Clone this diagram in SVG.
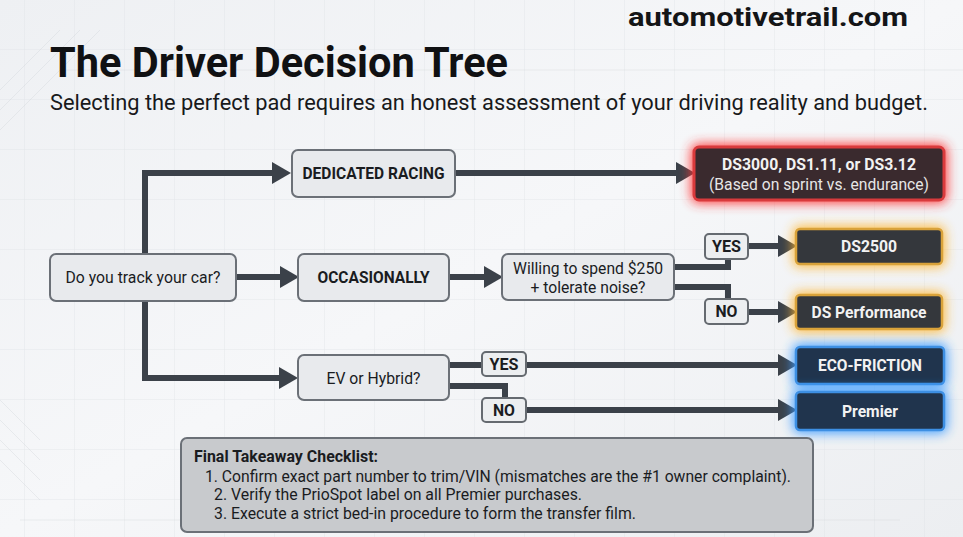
<svg xmlns="http://www.w3.org/2000/svg" width="963" height="537" viewBox="0 0 963 537">
<defs>
<linearGradient id="bg" x1="0" y1="0" x2="1" y2="1">
<stop offset="0" stop-color="#eef0f3"/>
<stop offset="0.5" stop-color="#f6f7f9"/>
<stop offset="1" stop-color="#eceef1"/>
</linearGradient>
<pattern id="grid" width="50" height="50" patternUnits="userSpaceOnUse" x="25" y="0">
<path d="M50,0 V50 M0,50 H50" fill="none" stroke="#dde0e5" stroke-width="1"/>
</pattern>
<marker id="arr" markerUnits="userSpaceOnUse" markerWidth="20" markerHeight="24" viewBox="0 0 20 24" refX="0" refY="12" orient="auto">
<path d="M0,1 L19,12 L0,23 Z" fill="#3b4149"/>
</marker>
<filter id="glow" x="-30%" y="-80%" width="160%" height="260%">
<feGaussianBlur in="SourceGraphic" stdDeviation="6"/>
</filter>
<style>
.conn{fill:none;stroke:#3b4149;stroke-width:6;stroke-linejoin:miter}
.box{fill:#e8eaed;stroke:#6b7077;stroke-width:2}
.lbl{fill:#eceef0;stroke:#656a70;stroke-width:2}
.t{font-family:Roboto,"Liberation Sans",sans-serif;fill:#1a1c1f;text-anchor:middle}
.b{font-weight:700}
.w{fill:#f2f2f2;font-weight:700}
.ck{font-family:Roboto,"Liberation Sans",sans-serif;fill:#1a1c1f;font-size:16.5px}
.gr{fill:#ff3030;opacity:0.95}
.ga{fill:#ffb52e;opacity:0.9}
.gb{fill:#3a9bff;opacity:0.95}
</style>
</defs>
<rect width="963" height="537" fill="url(#bg)"/>
<rect width="963" height="537" fill="url(#grid)" opacity="0.7"/>
<g opacity="0.35" stroke="#cfd3d8" stroke-width="1" fill="none">
<path d="M0,90 L60,30 M0,110 L80,30 M0,130 L100,30"/>
<path d="M0,400 L40,440 M0,420 L40,460 M0,440 L40,480 M0,460 L40,500"/>
<path d="M20,520 H900 M60,70 H963"/>
</g>

<g id="header">
<text x="768" y="26" class="t b" font-size="26" style="fill:#141517" textLength="280" lengthAdjust="spacingAndGlyphs">automotivetrail.com</text>
<text x="50" y="77" class="t b" font-size="42" style="text-anchor:start;fill:#101113" textLength="458" lengthAdjust="spacingAndGlyphs">The Driver Decision Tree</text>
<text x="50" y="110" class="t" font-size="21.5" style="text-anchor:start;fill:#18191b" textLength="878" lengthAdjust="spacingAndGlyphs">Selecting the perfect pad requires an honest assessment of your driving reality and budget.</text>
</g>

<g id="connectors">
<path class="conn" d="M145,256 V173 H272" marker-end="url(#arr)"/>
<path class="conn" d="M145,299 V378 H279" marker-end="url(#arr)"/>
<path class="conn" d="M236,277 H280" marker-end="url(#arr)"/>
<path class="conn" d="M449,277 H484" marker-end="url(#arr)"/>
<path class="conn" d="M455,173 H676" marker-end="url(#arr)"/>
<path class="conn" d="M674,267 H728 V258"/>
<path class="conn" d="M748,246 H778" marker-end="url(#arr)"/>
<path class="conn" d="M674,287 H728 V300"/>
<path class="conn" d="M748,312 H778" marker-end="url(#arr)"/>
<path class="conn" d="M449,365 H483"/>
<path class="conn" d="M526,365 H778" marker-end="url(#arr)"/>
<path class="conn" d="M449,386 H505 V399"/>
<path class="conn" d="M526,410 H778" marker-end="url(#arr)"/>
</g>

<g id="n-track">
<rect class="box" x="50" y="254" width="186" height="47" rx="6"/>
<text x="143" y="283" class="t" font-size="17" textLength="155" lengthAdjust="spacingAndGlyphs">Do you track your car?</text>
</g>
<g id="n-racing">
<rect class="box" x="292" y="150" width="163" height="47" rx="6"/>
<text x="373.5" y="179" class="t b" font-size="16.5" textLength="142" lengthAdjust="spacingAndGlyphs">DEDICATED RACING</text>
</g>
<g id="n-occ">
<rect class="box" x="298" y="254" width="151" height="47" rx="6"/>
<text x="373.5" y="283" class="t b" font-size="16.5" textLength="112" lengthAdjust="spacingAndGlyphs">OCCASIONALLY</text>
</g>
<g id="n-ev">
<rect class="box" x="298" y="355" width="151" height="45" rx="6"/>
<text x="373.5" y="384" class="t" font-size="17" textLength="94" lengthAdjust="spacingAndGlyphs">EV or Hybrid?</text>
</g>
<g id="n-willing">
<rect class="box" x="502" y="254" width="172" height="46" rx="6"/>
<text x="588" y="274" class="t" font-size="17" textLength="150" lengthAdjust="spacingAndGlyphs">Willing to spend $250</text>
<text x="588" y="293" class="t" font-size="17" textLength="115" lengthAdjust="spacingAndGlyphs">+ tolerate noise?</text>
</g>

<g id="l-yes1">
<rect class="lbl" x="705" y="234" width="43" height="25" rx="4"/>
<text x="726.5" y="252" class="t b" font-size="16" textLength="29" lengthAdjust="spacingAndGlyphs">YES</text>
</g>
<g id="l-no1">
<rect class="lbl" x="705" y="299" width="43" height="25" rx="4"/>
<text x="726.5" y="317" class="t b" font-size="16" textLength="22" lengthAdjust="spacingAndGlyphs">NO</text>
</g>
<g id="l-yes2">
<rect class="lbl" x="482" y="352" width="44" height="24" rx="4"/>
<text x="504" y="370" class="t b" font-size="16" textLength="29" lengthAdjust="spacingAndGlyphs">YES</text>
</g>
<g id="l-no2">
<rect class="lbl" x="482" y="398" width="44" height="24" rx="4"/>
<text x="504" y="416" class="t b" font-size="16" textLength="22" lengthAdjust="spacingAndGlyphs">NO</text>
</g>

<g id="n-ds3000">
<rect x="691" y="144" width="256" height="59" rx="7" class="gr" filter="url(#glow)"/>
<rect x="694" y="147" width="250" height="53" rx="5" fill="#3a2a2e" stroke="#d93a3c" stroke-width="3"/>
<text x="819" y="170" class="t w" font-size="17" textLength="194" lengthAdjust="spacingAndGlyphs">DS3000, DS1.11, or DS3.12</text>
<text x="819" y="190" class="t" font-size="16.5" style="fill:#e6e6e6" textLength="220" lengthAdjust="spacingAndGlyphs">(Based on sprint vs. endurance)</text>
</g>
<g id="n-ds2500">
<rect x="793" y="226" width="152" height="41" rx="6" class="ga" filter="url(#glow)"/>
<rect x="796" y="229" width="146" height="35" rx="4" fill="#34373c" stroke="#d9a23a" stroke-width="2.5"/>
<text x="869" y="252" class="t w" font-size="17" textLength="56" lengthAdjust="spacingAndGlyphs">DS2500</text>
</g>
<g id="n-dsperf">
<rect x="793" y="292" width="152" height="40" rx="6" class="ga" filter="url(#glow)"/>
<rect x="796" y="295" width="146" height="34" rx="4" fill="#34373c" stroke="#d9a23a" stroke-width="2.5"/>
<text x="869" y="318" class="t w" font-size="17" textLength="115" lengthAdjust="spacingAndGlyphs">DS Performance</text>
</g>
<g id="n-eco">
<rect x="793" y="344" width="154" height="43" rx="6" class="gb" filter="url(#glow)"/>
<rect x="796" y="347" width="148" height="37" rx="4" fill="#20344d" stroke="#3d8fe3" stroke-width="2.5"/>
<text x="870" y="371" class="t w" font-size="17" textLength="104" lengthAdjust="spacingAndGlyphs">ECO-FRICTION</text>
</g>
<g id="n-premier">
<rect x="793" y="389" width="154" height="44" rx="6" class="gb" filter="url(#glow)"/>
<rect x="796" y="392" width="148" height="38" rx="4" fill="#20344d" stroke="#3d8fe3" stroke-width="2.5"/>
<text x="870" y="417" class="t w" font-size="17" textLength="56" lengthAdjust="spacingAndGlyphs">Premier</text>
</g>

<g id="checklist">
<rect x="181" y="438" width="632" height="94" rx="6" fill="#c8cacd" stroke="#6b7077" stroke-width="2"/>
<text x="194" y="462" class="ck" font-weight="700" textLength="184" lengthAdjust="spacingAndGlyphs">Final Takeaway Checklist:</text>
<text x="205" y="482" class="ck" textLength="586" lengthAdjust="spacingAndGlyphs">1. Confirm exact part number to trim/VIN (mismatches are the #1 owner complaint).</text>
<text x="214" y="500" class="ck" textLength="368" lengthAdjust="spacingAndGlyphs">2. Verify the PrioSpot label on all Premier purchases.</text>
<text x="214" y="519" class="ck" textLength="422" lengthAdjust="spacingAndGlyphs">3. Execute a strict bed-in procedure to form the transfer film.</text>
</g>
</svg>
